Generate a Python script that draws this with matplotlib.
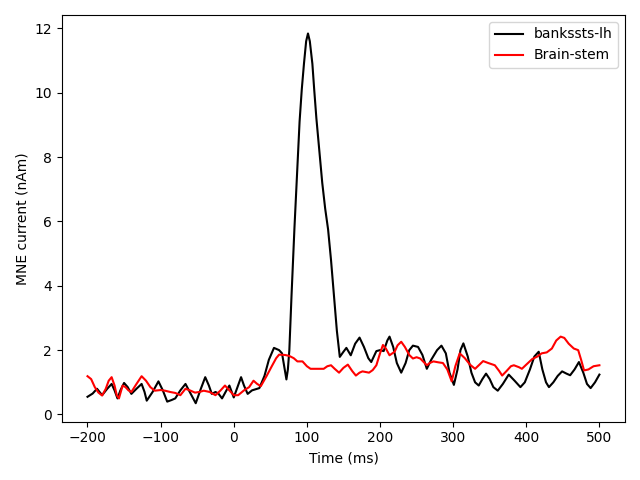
import matplotlib
import matplotlib.pyplot as plt

matplotlib.use("Agg")

# bankssts-lh (black)
times_lh = [
    -200, -193, -187, -180, -173, -167, -163, -159, -155, -150, -145, -140,
    -133, -126, -122, -119, -111, -103, -97, -91, -85, -80, -73, -66, -59,
    -52, -45, -39, -34, -30, -25, -21, -16, -10, -6, -2, 0, 5, 10, 14, 19,
    25, 35, 42, 48, 55, 62, 66, 69, 72, 74, 76, 79, 83, 87, 90, 93, 96, 99,
    101.5, 104, 107.5, 110, 113, 117, 121, 125, 129, 133, 137, 141, 145,
    150, 154, 160, 166, 172, 178, 184, 188, 195, 200, 205, 210, 213, 218,
    223, 229, 235, 240, 245, 252, 258, 264, 270, 278, 284, 290, 295, 301,
    306, 310, 314, 320, 325, 330, 335, 340, 345, 350, 355, 361, 368, 376,
    384, 392, 398, 405, 411, 417, 422, 427, 431, 437, 443, 449, 455, 460,
    466, 472, 478, 483, 488, 494, 500,
]
values_lh = [
    0.55, 0.65, 0.8, 0.6, 0.8, 0.95, 0.75, 0.5, 0.75, 0.98, 0.85, 0.64,
    0.8, 0.95, 0.7, 0.43, 0.7, 1.03, 0.75, 0.4, 0.45, 0.5, 0.75, 0.95, 0.65,
    0.35, 0.8, 1.16, 0.9, 0.64, 0.7, 0.65, 0.5, 0.75, 0.9, 0.65, 0.53, 0.85,
    1.16, 0.9, 0.64, 0.75, 0.82, 1.2, 1.7, 2.07, 2.0, 1.9, 1.5, 1.09, 1.4,
    2.0, 3.7, 5.8, 7.7, 9.1, 10.1, 10.9, 11.6, 11.84, 11.6, 10.9, 10.1, 9.2,
    8.2, 7.2, 6.4, 5.75, 4.8, 3.7, 2.6, 1.79, 1.95, 2.07, 1.84, 2.2, 2.39,
    2.1, 1.75, 1.63, 1.97, 2.0, 1.97, 2.3, 2.42, 2.1, 1.6, 1.3, 1.6, 2.0,
    2.14, 2.1, 1.85, 1.42, 1.7, 2.0, 2.14, 1.9, 1.3, 0.92, 1.4, 2.0, 2.21,
    1.8, 1.3, 1.0, 0.9, 1.1, 1.27, 1.1, 0.85, 0.74, 0.95, 1.24, 1.05, 0.85,
    1.0, 1.4, 1.8, 1.95, 1.4, 1.0, 0.85, 1.0, 1.2, 1.34, 1.27, 1.22, 1.4,
    1.63, 1.3, 0.95, 0.82, 1.0, 1.24,
]

# Brain-stem (red)
times_bs = [
    -200, -195, -190, -185, -180, -175, -171, -167, -163, -160, -157, -152,
    -148, -144, -140, -133, -126, -120, -114, -108, -100, -94, -87, -80,
    -73, -66, -60, -53, -47, -41, -33, -25, -18, -12, -6, 0, 6, 14, 21, 27,
    32, 37, 45, 52, 58, 62, 70, 76, 82, 87, 94, 100, 105, 115, 123, 128,
    133, 138, 144, 150, 156, 162, 167, 172, 176, 185, 190, 195, 200, 204,
    208, 213, 220, 224, 229, 234, 240, 245, 250, 255, 264, 268, 273, 280,
    286, 292, 298, 303, 309, 316, 323, 330, 336, 341, 348, 357, 363, 367,
    373, 379, 383, 390, 394, 400, 408, 415, 421, 428, 435, 441, 447, 452,
    458, 465, 471, 475, 479, 485, 492, 500,
]
values_bs = [
    1.19, 1.1, 0.85, 0.68, 0.59, 0.8, 1.05, 1.16, 0.9, 0.6, 0.5, 0.9, 0.85,
    0.75, 0.7, 0.95, 1.19, 1.05, 0.85, 0.74, 0.76, 0.74, 0.7, 0.67, 0.6,
    0.8, 0.75, 0.68, 0.7, 0.74, 0.7, 0.6, 0.75, 0.9, 0.75, 0.6, 0.6, 0.75,
    0.85, 1.05, 0.95, 0.88, 1.2, 1.5, 1.75, 1.86, 1.85, 1.82, 1.75, 1.65,
    1.65, 1.5, 1.42, 1.42, 1.42, 1.5, 1.53, 1.42, 1.3, 1.45, 1.55, 1.35,
    1.21, 1.3, 1.34, 1.3, 1.38, 1.53, 1.9, 2.16, 2.05, 1.84, 1.95, 2.15,
    2.26, 2.1, 1.85, 1.74, 1.78, 1.74, 1.53, 1.6, 1.65, 1.62, 1.6, 1.4, 1.03,
    1.5, 1.9, 1.75, 1.55, 1.42, 1.55, 1.66, 1.6, 1.53, 1.35, 1.21, 1.35, 1.5,
    1.53, 1.47, 1.42, 1.55, 1.72, 1.8, 1.9, 1.93, 2.05, 2.3, 2.42, 2.38, 2.2,
    2.05, 2.0, 1.7, 1.37, 1.4, 1.5, 1.53,
]

fig, ax = plt.subplots(figsize=(6.4, 4.8), dpi=100)
ax.plot(times_lh, values_lh, color="k", label="bankssts-lh")
ax.plot(times_bs, values_bs, color="r", label="Brain-stem")
ax.set_xlabel("Time (ms)")
ax.set_ylabel("MNE current (nAm)")
ax.legend(loc="upper right")
plt.tight_layout()
fig.savefig("out.png", dpi=100)
plt.close(fig)
